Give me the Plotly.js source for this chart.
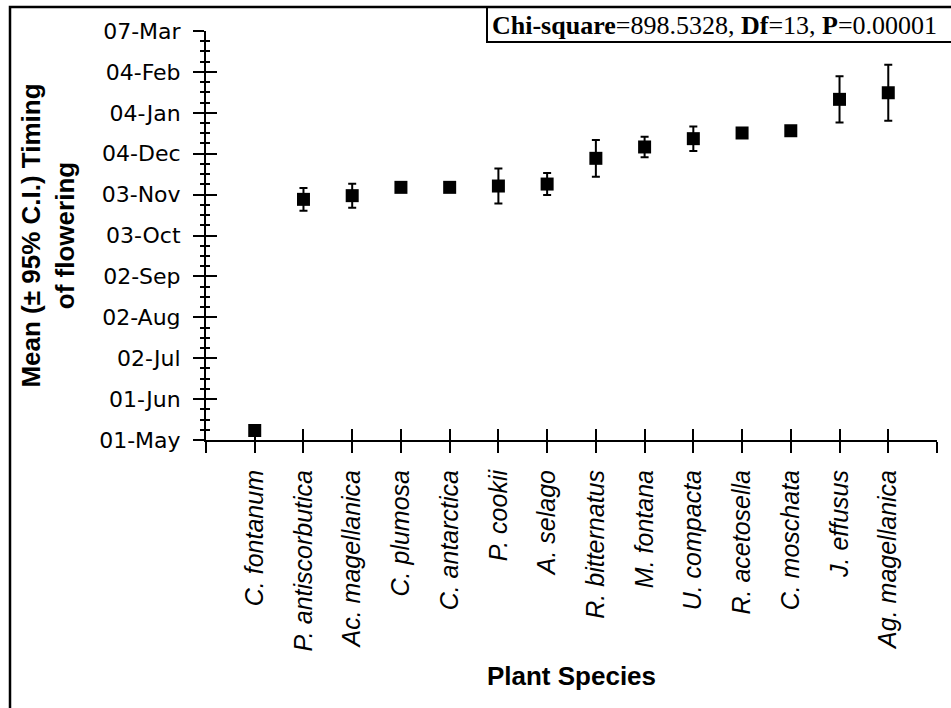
<!DOCTYPE html>
<html>
<head>
<meta charset="utf-8">
<script src="https://cdn.plot.ly/plotly-3.0.1.min.js"></script>
<style>
  html, body { margin: 0; padding: 0; background: #ffffff; }
  #chart { width: 951px; height: 708px; }
</style>
</head>
<body>
<div id="chart"></div>
<script>
// ---- Data ----
// Plant species (x categories)
const species = [
  "C. fontanum", "P. antiscorbutica", "Ac. magellanica", "C. plumosa",
  "C. antarctica", "P. cookii", "A. selago", "R. bitternatus",
  "M. fontana", "U. compacta", "R. acetosella", "C. moschata",
  "J. effusus", "Ag. magellanica"
];
// Mean flowering timing, in days after 01-May
const meanDays = [7.2, 182.4, 185.2, 191.5, 191.5, 192.5, 194.0, 213.5,
                  222.1, 228.4, 232.7, 234.4, 258.2, 263.2];
// 95% confidence interval half-width, in days
const ci95Days = [2, 8.6, 9.1, 2, 2, 13.2, 8.3, 13.9,
                  7.8, 9.3, 2, 2, 17.5, 21.2];
// Y-axis tick labels (one every 31 days starting 01-May)
const yTickLabels = ["01-May", "01-Jun", "02-Jul", "02-Aug", "02-Sep", "03-Oct",
                     "03-Nov", "04-Dec", "04-Jan", "04-Feb", "07-Mar"];
const yStepDays = 31;
const statsText = "<b>Chi-square</b>=898.5328, <b>Df</b>=13, <b>P</b>=0.00001";

// ---- Build ----
const xPos = species.map((_, i) => i + 1);
const nSlots = species.length + 1;
const xTickVals = [];
const xTickText = [];
for (let i = 0; i <= nSlots; i++) {
  xTickVals.push(i);
  xTickText.push(i >= 1 && i <= species.length ? species[i - 1] : "");
}
const yTickVals = yTickLabels.map((_, i) => i * yStepDays);
const yMax = yTickVals[yTickVals.length - 1];

const W = 951, H = 708;
const L = 206, R = 14, T = 31, B = 268;
const pw = W - L - R, ph = H - T - B;
const px = v => (v - L) / pw;          // pixel -> paper x
const py = v => (H - B - v) / ph;      // pixel -> paper y

const traces = [
  {
    type: "scatter",
    mode: "markers",
    x: xPos,
    y: meanDays,
    marker: { symbol: "square", size: 13, color: "#000000" },
    error_y: { type: "data", array: ci95Days, visible: true,
               color: "#000000", thickness: 2, width: 4 },
    showlegend: false,
    hoverinfo: "skip"
  },
  { type: "scatter", mode: "markers", x: [], y: [], xaxis: "x2", yaxis: "y2",
    showlegend: false, hoverinfo: "skip" }
];

const xCommon = {
  range: [0, nSlots],
  tickmode: "array",
  tickvals: xTickVals,
  showgrid: false, zeroline: false,
  ticklen: 11, tickwidth: 2, tickcolor: "#000000"
};
const yCommon = {
  range: [0, yMax],
  tickmode: "array",
  tickvals: yTickVals,
  showgrid: false, zeroline: false,
  ticklen: 11, tickwidth: 2, tickcolor: "#000000"
};

const layout = {
  width: W, height: H,
  margin: { l: L, r: R, t: T, b: B, pad: 0 },
  paper_bgcolor: "#ffffff",
  plot_bgcolor: "#ffffff",
  showlegend: false,
  xaxis: Object.assign({}, xCommon, {
    ticks: "outside",
    ticktext: xTickText,
    tickangle: -90,
    ticklabelstandoff: 7,
    tickfont: { family: "Liberation Sans", size: 25, color: "#000000", style: "italic" },
    showline: true, linecolor: "#000000", linewidth: 2,
    title: { text: "Plant Species", standoff: 16,
             font: { family: "Liberation Sans", size: 26, color: "#000000", weight: "bold" } }
  }),
  xaxis2: Object.assign({}, xCommon, {
    overlaying: "x", anchor: "y2", side: "bottom",
    ticks: "inside", showticklabels: false, showline: false
  }),
  yaxis: Object.assign({}, yCommon, {
    ticks: "outside",
    ticktext: yTickLabels,
    ticklabelstandoff: 8,
    tickfont: { family: "DejaVu Sans", size: 22, color: "#000000" },
    showline: true, linecolor: "#000000", linewidth: 2,
    minor: { tickmode: "linear", tick0: 0, dtick: yStepDays / 4,
             ticks: "outside", ticklen: 4, tickwidth: 2, tickcolor: "#000000", showgrid: false },
    title: { text: "Mean (± 95% C.I.) Timing<br>of flowering", standoff: 17,
             font: { family: "Liberation Sans", size: 26, color: "#000000", weight: "bold" } }
  }),
  yaxis2: Object.assign({}, yCommon, {
    overlaying: "y", anchor: "x2", side: "left",
    ticks: "inside", showticklabels: false, showline: false,
    minor: { tickmode: "linear", tick0: 0, dtick: yStepDays / 4,
             ticks: "inside", ticklen: 4, tickwidth: 2, tickcolor: "#000000", showgrid: false }
  }),
  shapes: [
    { type: "rect", xref: "paper", yref: "paper",
      x0: px(10), x1: px(962), y0: py(720), y1: py(7),
      line: { color: "#000000", width: 2.5 }, fillcolor: "rgba(0,0,0,0)", layer: "above" },
    { type: "rect", xref: "paper", yref: "paper",
      x0: px(487), x1: px(962), y0: py(42), y1: py(7),
      line: { color: "#000000", width: 2 }, fillcolor: "rgba(0,0,0,0)", layer: "above" }
  ],
  annotations: [
    { xref: "paper", yref: "paper", x: px(490), y: py(25),
      xanchor: "left", yanchor: "middle", showarrow: false,
      text: statsText,
      font: { family: "Liberation Serif", size: 26, color: "#000000" } }
  ]
};

Plotly.newPlot("chart", traces, layout, { displayModeBar: false, staticPlot: true });
</script>
</body>
</html>
